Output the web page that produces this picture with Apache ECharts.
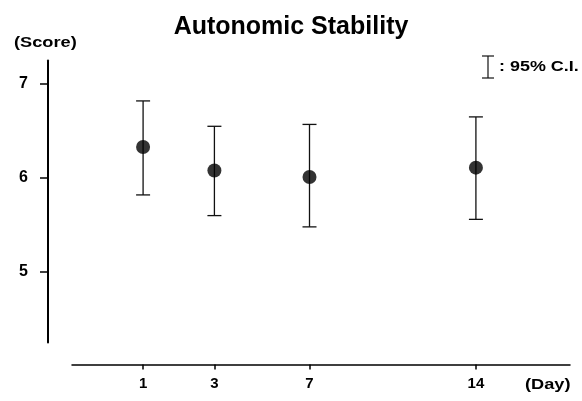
<!DOCTYPE html>
<html><head><meta charset="utf-8">
<script src="https://cdn.jsdelivr.net/npm/echarts@6/dist/echarts.min.js"></script>
<style>html,body{margin:0;padding:0;background:#fff}#c{width:582px;height:401px}</style>
</head><body><div id="c"></div>
<script>
// Day slots (blank entries are unlabeled spacing slots on the original axis)
const dayCategories = ['', '', '', '', '1', '', '', '3', '', '', '', '7', '', '', '', '', '', '', '14', '', '', '', ''];
const days = ['1', '3', '7', '14'];
const means = [6.33, 6.08, 6.01, 6.11];
const ciUpper = [6.82, 6.55, 6.57, 6.65];
const ciLower = [5.82, 5.60, 5.48, 5.56];
const yTicks = [5, 6, 7];

const font = '"Liberation Sans", Arial, sans-serif';
const chart = echarts.init(document.getElementById('c'), null, {renderer: 'canvas'});

const errData = days.map((d, i) => [d, ciLower[i], ciUpper[i]]);
const pointData = days.map((d, i) => [d, means[i]]);

const option = {
  animation: false,
  backgroundColor: '#fff',
  grid: [
    {left: 48, right: 11, top: 60.5, bottom: 58.5},
    {left: 72, right: 12, top: 60.5, bottom: 36.5}
  ],
  xAxis: [
    {
      type: 'category', gridIndex: 0, data: dayCategories, boundaryGap: false,
      offset: 22,
      axisLine: {show: false},
      axisTick: {show: true, interval: (i, v) => v !== '', length: 5, lineStyle: {color: '#000', width: 1.5}},
      axisLabel: {interval: 0, color: '#000', fontFamily: font, fontWeight: 'bold', fontSize: 15, margin: 12},
      splitLine: {show: false}
    },
    {
      type: 'value', gridIndex: 1, min: 0, max: 1,
      axisLine: {show: true, onZero: false, lineStyle: {color: '#000', width: 1.5}},
      axisTick: {show: false}, axisLabel: {show: false}, splitLine: {show: false}
    }
  ],
  yAxis: [
    {
      type: 'value', gridIndex: 0, min: 4.25, max: 7.25,
      axisLine: {show: true, lineStyle: {color: '#000', width: 2}},
      axisTick: {show: true, customValues: yTicks, length: 8, lineStyle: {color: '#000', width: 1.5}},
      axisLabel: {customValues: yTicks, color: '#000', fontFamily: font, fontWeight: 'bold', fontSize: 16, margin: 20},
      splitLine: {show: false}
    },
    {
      type: 'value', gridIndex: 1, min: 0, max: 1, show: false
    }
  ],
  series: [
    {
      type: 'custom', xAxisIndex: 0, yAxisIndex: 0, data: errData,
      renderItem: function (params, api) {
        const x = api.value(0);
        const lo = api.coord([x, api.value(1)]);
        const hi = api.coord([x, api.value(2)]);
        const hw = 7;
        const style = {stroke: '#111', lineWidth: 1.3};
        return {
          type: 'group',
          children: [
            {type: 'line', shape: {x1: lo[0], y1: lo[1], x2: hi[0], y2: hi[1]}, style: style},
            {type: 'line', shape: {x1: lo[0] - hw, y1: lo[1], x2: lo[0] + hw, y2: lo[1]}, style: style},
            {type: 'line', shape: {x1: hi[0] - hw, y1: hi[1], x2: hi[0] + hw, y2: hi[1]}, style: style}
          ]
        };
      },
      encode: {x: 0, y: [1, 2]},
      z: 2
    },
    {
      type: 'scatter', xAxisIndex: 0, yAxisIndex: 0, data: pointData,
      symbol: 'circle', symbolSize: 14,
      itemStyle: {color: '#000'}, z: 3
    }
  ],
  graphic: [
    {type: 'text', left: 'center', top: 15, style: {text: 'Autonomic Stability', font: 'bold 25px ' + font, fill: '#000'}},
    {type: 'text', x: 14, y: 43, scaleX: 1.3, style: {text: '(Score)', font: 'bold 14px ' + font, fill: '#000', verticalAlign: 'middle'}},
    {type: 'text', x: 525, y: 385, scaleX: 1.3, style: {text: '(Day)', font: 'bold 14px ' + font, fill: '#000', verticalAlign: 'middle'}},
    {type: 'line', shape: {x1: 488, y1: 56, x2: 488, y2: 78}, style: {stroke: '#111', lineWidth: 1.2}},
    {type: 'line', shape: {x1: 482, y1: 56, x2: 494, y2: 56}, style: {stroke: '#111', lineWidth: 1.2}},
    {type: 'line', shape: {x1: 482, y1: 78, x2: 494, y2: 78}, style: {stroke: '#111', lineWidth: 1.2}},
    {type: 'text', x: 499, y: 67.5, scaleX: 1.28, style: {text: ': 95% C.I.', font: 'bold 14px ' + font, fill: '#000', verticalAlign: 'middle'}}
  ]
};
chart.setOption(option);
</script>
</body></html>
